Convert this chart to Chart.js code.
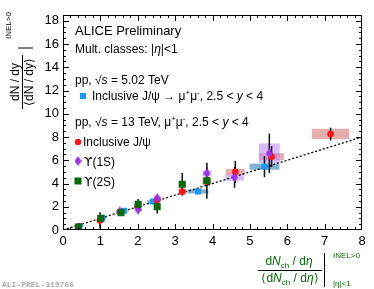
<!DOCTYPE html>
<html>
<head>
<meta charset="utf-8">
<script src="https://cdn.jsdelivr.net/npm/chart.js@4.4.1/dist/chart.umd.min.js"></script>
<style>
  html, body { margin: 0; padding: 0; background: #fff; }
  #wrap { width: 374px; height: 289px; }
</style>
</head>
<body>
<div id="wrap"><canvas id="c" width="374" height="289"></canvas></div>
<script>
// pp 5.02 TeV, inclusive J/psi
const jpsi5X = [0.44, 1.05, 1.63, 2.41, 3.61, 5.39];
const jpsi5Y = [0.34, 1.05, 1.65, 2.45, 3.32, 5.45];
const jpsi5Err = [0.1, 0.15, 0.15, 0.2, 0.25, 0.9];
const jpsi5SysX = [0.1, 0.1, 0.1, 0.15, 0.28, 0.4];
const jpsi5SysY = [0.1, 0.1, 0.1, 0.15, 0.18, 0.26];

// pp 13 TeV, inclusive J/psi
const jpsi13X = [0.42, 0.99, 1.55, 2.0, 2.52, 3.19, 3.85, 4.61, 5.58, 7.16];
const jpsi13Y = [0.3, 0.82, 1.55, 2.0, 2.58, 3.3, 4.16, 5.0, 6.31, 8.26];
const jpsi13Err = [0.1, 0.7, 0.2, 0.2, 0.3, 0.3, 0.4, 0.95, 0.9, 0.55];
const jpsi13SysX = [0.1, 0.1, 0.1, 0.1, 0.1, 0.1, 0.12, 0.25, 0.33, 0.5];
const jpsi13SysY = [0.05, 0.1, 0.1, 0.1, 0.15, 0.2, 0.25, 0.26, 0.3, 0.45];

// pp 13 TeV, Upsilon(1S)
const ups1X = [1.52, 2.01, 2.52, 3.85, 4.59, 5.52];
const ups1Y = [1.6, 1.75, 2.75, 4.88, 4.53, 6.6];
const ups1Err = [0.2, 0.25, 0.25, 0.5, 0.9, 1.7];
const ups1SysX = [0.1, 0.1, 0.1, 0.12, 0.25, 0.28];
const ups1SysY = [0.1, 0.12, 0.15, 0.25, 0.28, 0.85];

// pp 13 TeV, Upsilon(2S)
const ups2X = [0.41, 1.01, 1.55, 2.01, 2.52, 3.19, 3.85];
const ups2Y = [0.25, 1.0, 1.49, 2.21, 2.01, 3.93, 4.24];
const ups2Err = [0.15, 0.3, 0.25, 0.45, 0.6, 0.97, 1.55];
const ups2SysX = [0.08, 0.08, 0.08, 0.08, 0.08, 0.1, 0.12];
const ups2SysY = [0.08, 0.1, 0.1, 0.15, 0.15, 0.2, 0.28];

// diagonal reference
const diagX = [0, 8];
const diagY = [0, 8];

const xTicks = [0, 1, 2, 3, 4, 5, 6, 7, 8];
const yTicks = [0, 2, 4, 6, 8, 10, 12, 14, 16, 18];

const FONT = '"Liberation Sans", Arial, Helvetica, sans-serif';

function pts(xs, ys) {
  return xs.map((x, i) => ({ x, y: ys[i] }));
}

function diamondCanvas(color, w, h) {
  const cv = document.createElement('canvas');
  cv.width = w; cv.height = h;
  const c = cv.getContext('2d');
  c.fillStyle = color;
  c.beginPath();
  c.moveTo(w / 2, 0); c.lineTo(w, h / 2); c.lineTo(w / 2, h); c.lineTo(0, h / 2);
  c.closePath(); c.fill();
  return cv;
}

const series = [
  { key: 'u2', xs: ups2X, ys: ups2Y, err: ups2Err, sx: ups2SysX, sy: ups2SysY, color: '#086a08', box: 'rgba(205,175,125,0.55)' },
  { key: 'u1', xs: ups1X, ys: ups1Y, err: ups1Err, sx: ups1SysX, sy: ups1SysY, color: '#9a35e0', box: 'rgba(190,130,245,0.55)' },
  { key: 'j13', xs: jpsi13X, ys: jpsi13Y, err: jpsi13Err, sx: jpsi13SysX, sy: jpsi13SysY, color: '#ff1414', box: 'rgba(205,95,95,0.5)' },
  { key: 'j5', xs: jpsi5X, ys: jpsi5Y, err: jpsi5Err, sx: jpsi5SysX, sy: jpsi5SysY, color: '#1e98f0', box: 'rgba(60,135,185,0.65)' }
];

function rich(ctx, x, y, parts, align) {
  let total = 0;
  const fnt = (p) => (p.i ? 'italic ' : '') + (p.s || 12) + 'px ' + (p.f || FONT);
  parts.forEach((p) => {
    ctx.font = fnt(p);
    p.w = ctx.measureText(p.t).width;
    total += p.w;
  });
  let cx = align === 'center' ? x - total / 2 : x;
  ctx.textAlign = 'left';
  ctx.textBaseline = 'alphabetic';
  parts.forEach((p) => {
    ctx.font = fnt(p);
    ctx.fillText(p.t, cx, y + (p.dy || 0));
    cx += p.w;
  });
  return total;
}

const overlay = {
  id: 'overlay',
  beforeDatasetsDraw(chart) {
    const ctx = chart.ctx;
    const xs = chart.scales.x, ys = chart.scales.y;
    ctx.save();
    // systematic boxes
    series.slice().reverse().forEach((s) => {
      ctx.fillStyle = s.box;
      s.xs.forEach((x, i) => {
        const l = xs.getPixelForValue(x - s.sx[i]);
        const r = xs.getPixelForValue(x + s.sx[i]);
        const t = ys.getPixelForValue(s.ys[i] + s.sy[i]);
        const b = ys.getPixelForValue(s.ys[i] - s.sy[i]);
        ctx.fillRect(l, t, r - l, b - t);
      });
    });
    // statistical error bars
    ctx.strokeStyle = '#111';
    ctx.lineWidth = 1.5;
    series.forEach((s) => {
      s.xs.forEach((x, i) => {
        const px = xs.getPixelForValue(x);
        ctx.beginPath();
        ctx.moveTo(px, ys.getPixelForValue(s.ys[i] + s.err[i]));
        ctx.lineTo(px, ys.getPixelForValue(s.ys[i] - s.err[i]));
        ctx.stroke();
      });
    });
    ctx.restore();
  },
  afterDraw(chart) {
    const ctx = chart.ctx;
    const a = chart.chartArea;
    const xs = chart.scales.x, ys = chart.scales.y;
    ctx.save();
    ctx.strokeStyle = '#000';
    ctx.lineWidth = 1;
    ctx.strokeRect(a.left + 0.5, a.top + 0.5, a.right - a.left - 1, a.bottom - a.top - 1);
    ctx.beginPath();
    for (let k = 1; k < 40; k++) {
      const v = k * 0.2;
      if (v >= 8 - 1e-6) break;
      const major = Math.abs(v - Math.round(v)) < 1e-6;
      const len = major ? 6 : 3;
      const px = Math.round(xs.getPixelForValue(v)) + 0.5;
      ctx.moveTo(px, a.bottom); ctx.lineTo(px, a.bottom - len);
      ctx.moveTo(px, a.top); ctx.lineTo(px, a.top + len);
    }
    for (let k = 1; k < 37; k++) {
      const v = k * 0.5;
      if (v >= 18.5 - 1e-6) break;
      const major = Math.abs(v / 2 - Math.round(v / 2)) < 1e-6;
      const len = major ? 6 : 3;
      const py = Math.round(ys.getPixelForValue(v)) + 0.5;
      ctx.moveTo(a.left, py); ctx.lineTo(a.left + len, py);
      ctx.moveTo(a.right, py); ctx.lineTo(a.right - len, py);
    }
    ctx.stroke();

    ctx.fillStyle = '#000';
    rich(ctx, 75, 35, [{ t: 'ALICE Preliminary', s: 13 }]);
    rich(ctx, 75, 53, [{ t: 'Mult. classes: |' }, { t: 'η', i: true }, { t: '|<1' }]);
    rich(ctx, 75, 84, [{ t: 'pp, √' }, { t: 's', i: true }, { t: ' = 5.02 TeV' }]);
    rich(ctx, 92, 100, [{ t: 'Inclusive J/ψ → μ' }, { t: '+', s: 8, dy: -5 }, { t: 'μ' }, { t: '-', s: 8, dy: -5 }, { t: ', 2.5 < ' }, { t: 'y', i: true }, { t: ' < 4' }]);
    rich(ctx, 75, 126, [{ t: 'pp, √' }, { t: 's', i: true }, { t: ' = 13 TeV, μ' }, { t: '+', s: 8, dy: -5 }, { t: 'μ' }, { t: '-', s: 8, dy: -5 }, { t: ', 2.5 < ' }, { t: 'y', i: true }, { t: ' < 4' }]);
    rich(ctx, 83, 146, [{ t: 'Inclusive J/ψ' }]);
    rich(ctx, 84, 166, [{ t: 'ϒ', f: '"DejaVu Sans", sans-serif' }, { t: '(1S)' }]);
    rich(ctx, 84, 186, [{ t: 'ϒ', f: '"DejaVu Sans", sans-serif' }, { t: '(2S)' }]);

    // legend markers
    ctx.fillStyle = '#1e98f0';
    ctx.fillRect(80, 93, 6, 6);
    ctx.fillStyle = '#ff1414';
    ctx.beginPath(); ctx.arc(78, 142, 3.2, 0, Math.PI * 2); ctx.fill();
    ctx.drawImage(diamondCanvas('#9a35e0', 7, 10), 74.5, 156);
    ctx.fillStyle = '#086a08';
    ctx.fillRect(74.5, 177.5, 7, 7);

    // y title
    ctx.save();
    ctx.translate(22, 82);
    ctx.rotate(-Math.PI / 2);
    ctx.fillStyle = '#000';
    rich(ctx, 0, -3, [{ t: 'dN / dy' }], 'center');
    rich(ctx, 0, 11, [{ t: '⟨dN / dy⟩' }], 'center');
    ctx.beginPath();
    ctx.moveTo(-27, 0.5); ctx.lineTo(27, 0.5);
    ctx.moveTo(34, -4); ctx.lineTo(34, 11);
    ctx.stroke();
    rich(ctx, 43, -11, [{ t: 'INEL>0', s: 8 }]);
    ctx.restore();

    // x title
    rich(ctx, 289, 265, [{ t: 'd' }, { t: 'N', i: true }, { t: 'ch', s: 8, dy: 3 }, { t: ' / d' }, { t: 'η', i: true }], 'center');
    rich(ctx, 290, 282, [{ t: '⟨d' }, { t: 'N', i: true }, { t: 'ch', s: 8, dy: 3 }, { t: ' / d' }, { t: 'η', i: true }, { t: '⟩' }], 'center');
    ctx.beginPath();
    ctx.moveTo(258, 270.5); ctx.lineTo(322, 270.5);
    ctx.moveTo(324.5, 253); ctx.lineTo(324.5, 287);
    ctx.stroke();
    rich(ctx, 333, 258, [{ t: 'INEL>0', s: 8 }]);
    rich(ctx, 333, 286, [{ t: '|η|<1', s: 8 }]);

    ctx.fillStyle = '#aaa';
    ctx.font = 'bold 8px "Liberation Mono", "DejaVu Sans Mono", monospace';
    ctx.textAlign = 'left';
    ctx.fillText('ALI-PREL-319766', 2, 287);
    ctx.restore();
  }
};

const datasets = [
  {
    type: 'line', data: pts(diagX, diagY), borderColor: '#000', borderWidth: 1.3,
    borderDash: [2, 2], pointRadius: 0, fill: false, order: 10
  },
  { data: pts(jpsi5X, jpsi5Y), backgroundColor: '#1e98f0', borderWidth: 0, pointStyle: 'rect', pointRadius: 4.3, order: 4 },
  { data: pts(jpsi13X, jpsi13Y), backgroundColor: '#ff1414', borderWidth: 0, pointStyle: 'circle', pointRadius: 3.3, order: 3 },
  { data: pts(ups1X, ups1Y), backgroundColor: '#9a35e0', borderWidth: 0, pointStyle: diamondCanvas('#9a35e0', 7, 10), pointRadius: 5, order: 2 },
  { data: pts(ups2X, ups2Y), backgroundColor: '#086a08', borderWidth: 0, pointStyle: 'rect', pointRadius: 5, order: 1 }
];

new Chart(document.getElementById('c').getContext('2d'), {
  type: 'scatter',
  data: { datasets },
  options: {
    responsive: false,
    animation: false,
    devicePixelRatio: 1,
    layout: { padding: { top: 15, right: 12, left: 0, bottom: 0 } },
    plugins: { legend: { display: false }, tooltip: { enabled: false } },
    scales: {
      x: {
        type: 'linear', min: 0, max: 8,
        grid: { display: false, drawTicks: false },
        border: { display: false },
        afterBuildTicks: (s) => { s.ticks = xTicks.map((v) => ({ value: v })); },
        afterFit: (s) => { s.height = 59; },
        ticks: { padding: 4, color: '#000', font: { family: FONT, size: 13 }, maxRotation: 0 }
      },
      y: {
        type: 'linear', min: 0, max: 18.5,
        grid: { display: false, drawTicks: false },
        border: { display: false },
        afterBuildTicks: (s) => { s.ticks = yTicks.map((v) => ({ value: v })); },
        afterFit: (s) => { s.width = 63; },
        ticks: { padding: 4, color: '#000', font: { family: FONT, size: 13 } }
      }
    }
  },
  plugins: [overlay]
});
</script>
</body>
</html>
